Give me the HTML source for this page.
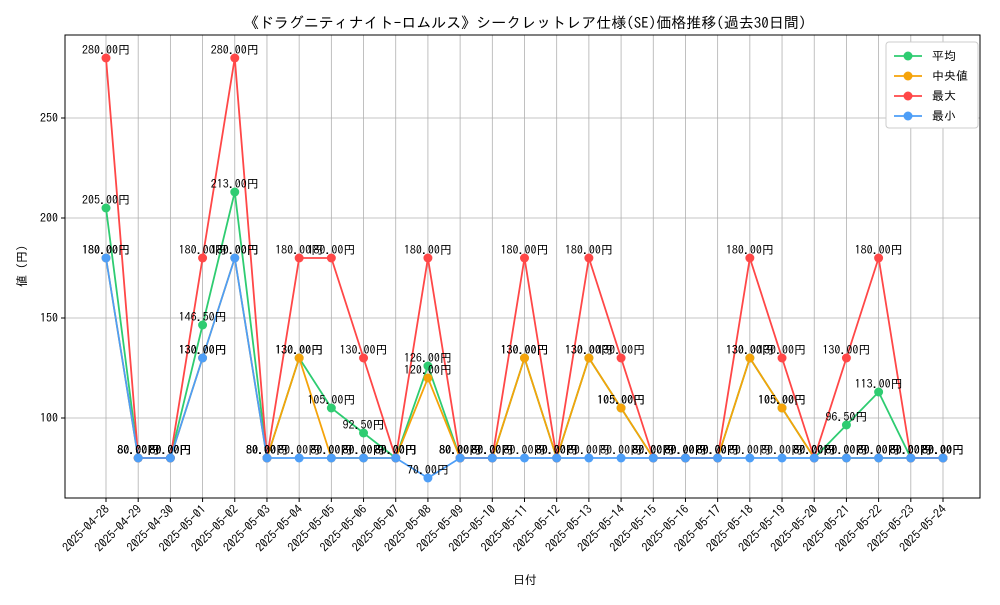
<!DOCTYPE html>
<html><head><meta charset="utf-8"><style>
body{margin:0;background:#fff;}
svg text{font-family:"IPAGothic","Noto Sans CJK JP",sans-serif;}
</style></head><body>
<svg id="chart" width="1000" height="600" xmlns="http://www.w3.org/2000/svg"></svg>
<script>
const dates=["2025-04-28","2025-04-29","2025-04-30","2025-05-01","2025-05-02","2025-05-03","2025-05-04","2025-05-05","2025-05-06","2025-05-07","2025-05-08","2025-05-09","2025-05-10","2025-05-11","2025-05-12","2025-05-13","2025-05-14","2025-05-15","2025-05-16","2025-05-17","2025-05-18","2025-05-19","2025-05-20","2025-05-21","2025-05-22","2025-05-23","2025-05-24"];
const avgVals=[205,80,80,146.5,213,80,130,105,92.5,80,126,80,80,130,80,130,105,80,80,80,130,105,80,96.5,113,80,80];
const medVals=[180,80,80,130,180,80,130,80,80,80,120,80,80,130,80,130,105,80,80,80,130,105,80,80,80,80,80];
const maxVals=[280,80,80,180,280,80,180,180,130,80,180,80,80,180,80,180,130,80,80,80,180,130,80,130,180,80,80];
const minVals=[180,80,80,130,180,80,80,80,80,80,70,80,80,80,80,80,80,80,80,80,80,80,80,80,80,80,80];
const yTicks=[100,150,200,250];
const svg=document.getElementById('chart');
const NS='http://www.w3.org/2000/svg';
const L=65,R=980,T=35,B=498;
const xS=i=>106+i*(943-106)/(dates.length-1);
const yS=v=>618-2*v;
function mk(tag,attrs,parent){const e=document.createElementNS(NS,tag);for(const k in attrs)e.setAttribute(k,attrs[k]);(parent||svg).appendChild(e);return e;}
let t=mk('text',{x:525,y:28,'text-anchor':'middle','font-size':15});


t.textContent='《ドラグニティナイト-ロムルス》シークレットレア仕様(SE)価格推移(過去30日間)';
const g=mk('g',{});


dates.forEach((d,i)=>{mk('line',{x1:xS(i),x2:xS(i),y1:T,y2:B,stroke:'#b0b0b0','stroke-width':0.8},g);});
yTicks.forEach(v=>{mk('line',{x1:L,x2:R,y1:yS(v),y2:yS(v),stroke:'#b0b0b0','stroke-width':0.8},g);});
const fr=mk('rect',{x:L,y:T,width:R-L,height:B-T,fill:'none',stroke:'#000','stroke-width':1});


yTicks.forEach(v=>{
 mk('line',{x1:L-4,x2:L,y1:yS(v),y2:yS(v),stroke:'#000'});
 const tx=mk('text',{x:L-7,y:yS(v)+4,'text-anchor':'end','font-size':12});
 
 
 tx.textContent=v;
});
dates.forEach((d,i)=>{
 mk('line',{x1:xS(i),x2:xS(i),y1:B,y2:B+4,stroke:'#000'});
 const tx=mk('text',{x:xS(i)+4,y:B+12,'text-anchor':'end','font-size':12,transform:`rotate(-45 ${xS(i)+4} ${B+12})`});
 
 
 tx.textContent=d;
});
let xl=mk('text',{x:525,y:584,'text-anchor':'middle','font-size':12});


xl.textContent='日付';
let yl=mk('text',{x:26,y:266,'text-anchor':'middle','font-size':12,transform:'rotate(-90 26 266)'});


yl.textContent='値 (円)';
const series=[["avg",avgVals,'#2ecc71','平均'],["median",medVals,'#f5a30a','中央値'],["max",maxVals,'#ff4747','最大'],["min",minVals,'#4d9ef7','最小']];
series.forEach(([n,vals,c])=>{
 const sg=mk('g',{});
 
 
 mk('polyline',{points:vals.map((v,i)=>xS(i)+','+yS(v)).join(' '),fill:'none',stroke:c,'stroke-width':1.8},sg);
 vals.forEach((v,i)=>{
  const p=mk('circle',{cx:xS(i),cy:yS(v),r:4.5,fill:c},sg);
  
  
 });
});
series.forEach(([n,vals])=>{
 vals.forEach((v,i)=>{
  const tx=mk('text',{x:xS(i),y:yS(v)-4,'text-anchor':'middle','font-size':12});
  
  
  tx.textContent=v.toFixed(2)+'円';
 });
});
const lg=mk('g',{});


mk('rect',{x:886,y:42,width:92,height:86,rx:3,fill:'#fff',stroke:'#ccc'},lg);
series.forEach(([n,vals,c,lab],k)=>{
 const y=56+k*20;
 const e=mk('g',{},lg);
 
 
 mk('line',{x1:894,x2:922,y1:y,y2:y,stroke:c,'stroke-width':1.8},e);
 mk('circle',{cx:908,cy:y,r:4.5,fill:c},e);
 const tx=mk('text',{x:932,y:y+4,'font-size':12},e);
 tx.textContent=lab;
});
</script>
</body></html>
